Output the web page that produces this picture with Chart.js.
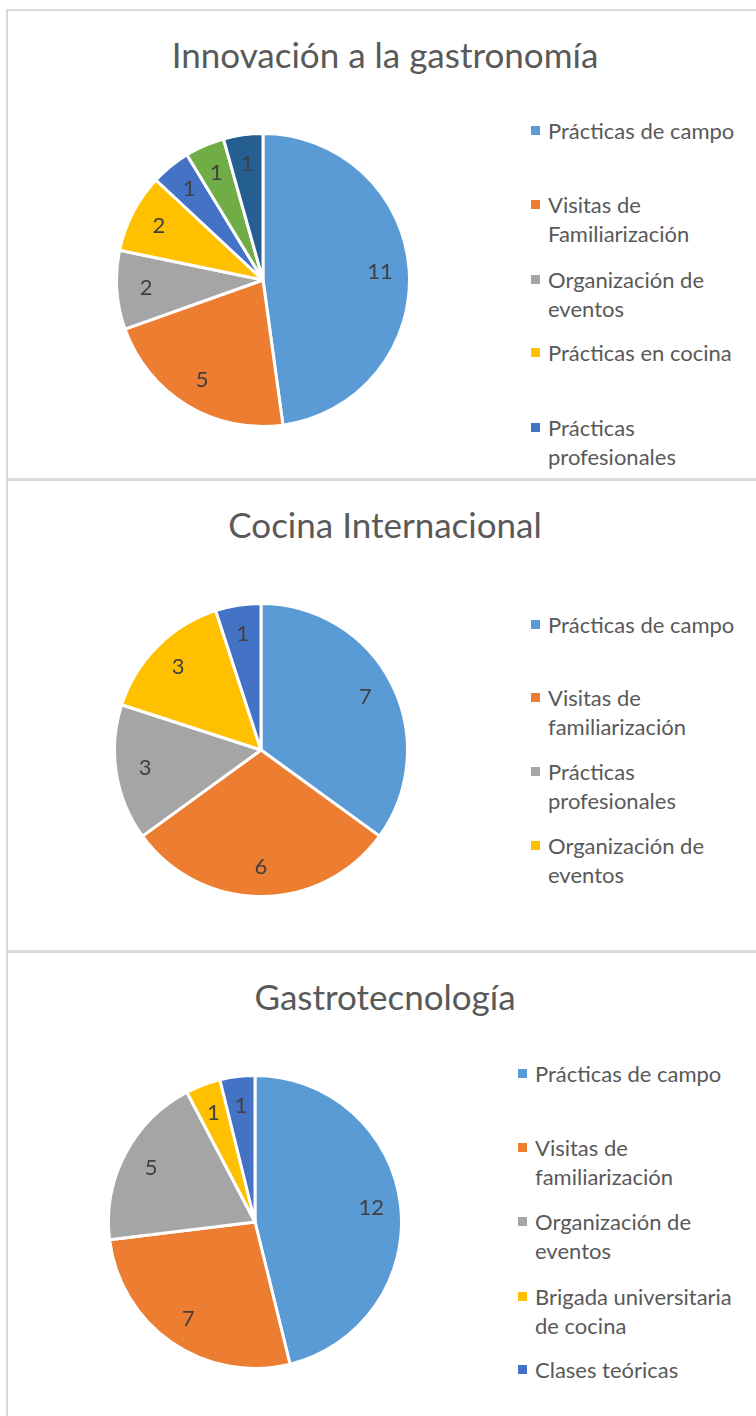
<!DOCTYPE html>
<html>
<head>
<meta charset="utf-8">
<script src="https://cdn.jsdelivr.net/npm/chart.js@4.4.1/dist/chart.umd.min.js"></script>
<style>
  body { margin: 0; background: #fff; width: 756px; height: 1416px; overflow: hidden; position: relative; font-family: Lato, "Open Sans", sans-serif; color: #595959; }
  .panel { position: absolute; left: 6px; width: 800px; border: 2px solid #d9d9d9; box-sizing: border-box; }
  .title { position: absolute; left: 0; width: 770px; text-align: center; font-size: 35px; line-height: 40px; white-space: nowrap; }
  .pie { position: absolute; }
  .legend { position: absolute; font-size: 22px; line-height: 29px; }
  .legend .item { position: absolute; white-space: nowrap; }
  .legend .sq { position: absolute; width: 9px; height: 9px; left: -17px; top: 10px; }
</style>
</head>
<body>
<div class="panel" style="top:9px;height:471px"></div>
<div class="panel" style="top:479px;height:473px"></div>
<div class="panel" style="top:951px;height:500px"></div>

<div class="title" style="top:34px">Innovación a la gastronomía</div>
<div class="title" style="top:504px">Cocina Internacional</div>
<div class="title" style="top:976px">Gastrotecnología</div>

<canvas id="pie1" class="pie" style="left:115px;top:132px" width="296" height="296"></canvas>
<canvas id="pie2" class="pie" style="left:113px;top:602px" width="296" height="296"></canvas>
<canvas id="pie3" class="pie" style="left:107px;top:1074px" width="296" height="296"></canvas>

<div id="leg1" class="legend" style="left:548px;top:0"></div>
<div id="leg2" class="legend" style="left:548px;top:0"></div>
<div id="leg3" class="legend" style="left:535px;top:0"></div>

<script>
// Innovación a la gastronomía
const labels1 = ["Prácticas de campo", "Visitas de\nFamiliarización", "Organización de\neventos", "Prácticas en cocina", "Prácticas\nprofesionales", "Clases teóricas", "Brigada universitaria de cocina"];
const values1 = [11, 5, 2, 2, 1, 1, 1];
const colors1 = ["#5b9bd5", "#ed7d31", "#a5a5a5", "#ffc000", "#4472c4", "#70ad47", "#255e91"];
const legendTops1 = [116, 190, 265, 338, 413];

// Cocina Internacional
const labels2 = ["Prácticas de campo", "Visitas de\nfamiliarización", "Prácticas\nprofesionales", "Organización de\neventos", "Prácticas en cocina"];
const values2 = [7, 6, 3, 3, 1];
const colors2 = ["#5b9bd5", "#ed7d31", "#a5a5a5", "#ffc000", "#4472c4"];
const legendTops2 = [610, 683, 757, 831];

// Gastrotecnología
const labels3 = ["Prácticas de campo", "Visitas de\nfamiliarización", "Organización de\neventos", "Brigada universitaria\nde cocina", "Clases teóricas"];
const values3 = [12, 7, 5, 1, 1];
const colors3 = ["#5b9bd5", "#ed7d31", "#a5a5a5", "#ffc000", "#4472c4"];
const legendTops3 = [1059, 1133, 1207, 1282, 1355];

// etiquetas de valor dentro de cada sector
const valueLabels = {
  id: "valueLabels",
  afterDatasetsDraw(chart) {
    const ctx = chart.ctx;
    const meta = chart.getDatasetMeta(0);
    const data = chart.data.datasets[0].data;
    ctx.save();
    ctx.font = "22px Lato, 'Open Sans', sans-serif";
    ctx.fillStyle = "#404040";
    ctx.textAlign = "center";
    ctx.textBaseline = "middle";
    meta.data.forEach((arc, i) => {
      const p = arc.getProps(["x", "y", "startAngle", "endAngle", "outerRadius"], true);
      const mid = (p.startAngle + p.endAngle) / 2;
      const r = p.outerRadius * 0.8;
      ctx.fillText(String(data[i]), p.x + Math.cos(mid) * r, p.y + Math.sin(mid) * r);
    });
    ctx.restore();
  }
};

function makePie(id, labels, values, colors) {
  new Chart(document.getElementById(id), {
    type: "pie",
    data: {
      labels: labels,
      datasets: [{ data: values, backgroundColor: colors, borderColor: "#ffffff", borderWidth: 3 }]
    },
    options: {
      responsive: false,
      animation: false,
      layout: { padding: 0 },
      plugins: { legend: { display: false }, tooltip: { enabled: false } }
    },
    plugins: [valueLabels]
  });
}

function makeLegend(id, labels, colors, tops) {
  const box = document.getElementById(id);
  tops.forEach((top, i) => {
    const item = document.createElement("div");
    item.className = "item";
    item.style.top = top + "px";
    item.innerHTML = '<span class="sq" style="background:' + colors[i] + '"></span>' +
      labels[i].split("\n").join("<br>");
    box.appendChild(item);
  });
}

makePie("pie1", labels1, values1, colors1);
makePie("pie2", labels2, values2, colors2);
makePie("pie3", labels3, values3, colors3);
makeLegend("leg1", labels1, colors1, legendTops1);
makeLegend("leg2", labels2, colors2, legendTops2);
makeLegend("leg3", labels3, colors3, legendTops3);
</script>
</body>
</html>
